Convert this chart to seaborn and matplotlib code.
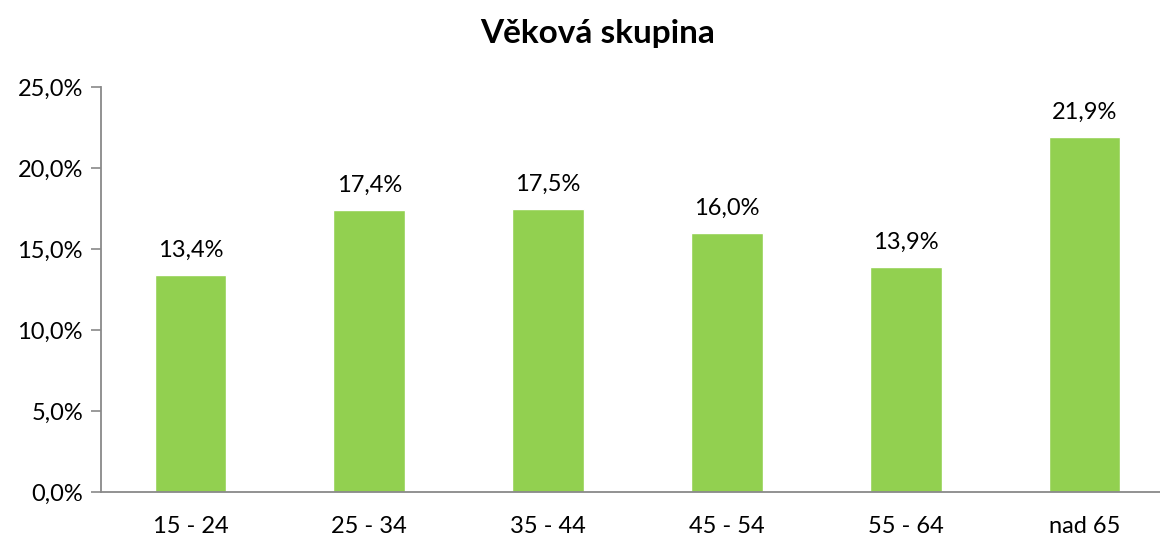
import matplotlib
matplotlib.use("Agg")
import matplotlib.pyplot as plt
import seaborn as sns
import pandas as pd

categories = ["15 - 24", "25 - 34", "35 - 44", "45 - 54", "55 - 64", "nad 65"]
values = [13.4, 17.4, 17.5, 16.0, 13.9, 21.9]
yticks = [0, 5, 10, 15, 20, 25]
title = "Věková skupina"

sns.set_theme(style="white")
plt.rcParams['font.family'] = ['Lato', 'DejaVu Sans']
plt.rcParams['text.color'] = 'black'
plt.rcParams['xtick.color'] = 'black'
plt.rcParams['ytick.color'] = 'black'

df = pd.DataFrame({"cat": categories, "val": values})

fig = plt.figure(figsize=(11.6, 5.36), dpi=100)
ax = fig.add_axes([101/1160, 1 - 492/536, (1174 - 101)/1160, (492 - 87)/536])
sns.barplot(data=df, x="cat", y="val", color="#92D050", width=0.4, ax=ax, saturation=1)

ax.set_ylim(0, 25)
ax.set_xlim(-0.5, 5.5)
ax.set_yticks(yticks)
ax.set_yticklabels([f"{t:.1f}".replace(".", ",") + "%" for t in yticks], fontsize=17, color="black")
ax.tick_params(axis="y", which="both", left=True, length=7, width=1.2, color="#898989",
               labelcolor="black", pad=6)
ax.tick_params(axis="x", bottom=False, labelsize=17, labelcolor="black", pad=11)
ax.set_xlabel("")
ax.set_ylabel("")
for s in ["top", "right"]:
    ax.spines[s].set_visible(False)
for s in ["left", "bottom"]:
    ax.spines[s].set_color("#898989")
    ax.spines[s].set_linewidth(1.3)

for i, v in enumerate(values):
    ax.annotate(f"{v:.1f}".replace(".", ",") + "%", (i, v), xytext=(0, 10),
                textcoords="offset points", ha="center", va="bottom", fontsize=17, color="black")

fig.text(598/1160, 1 - 33/536, title, ha="center", va="center", fontsize=24,
         fontweight="bold", color="black")

fig.savefig("out.png", dpi=100)
